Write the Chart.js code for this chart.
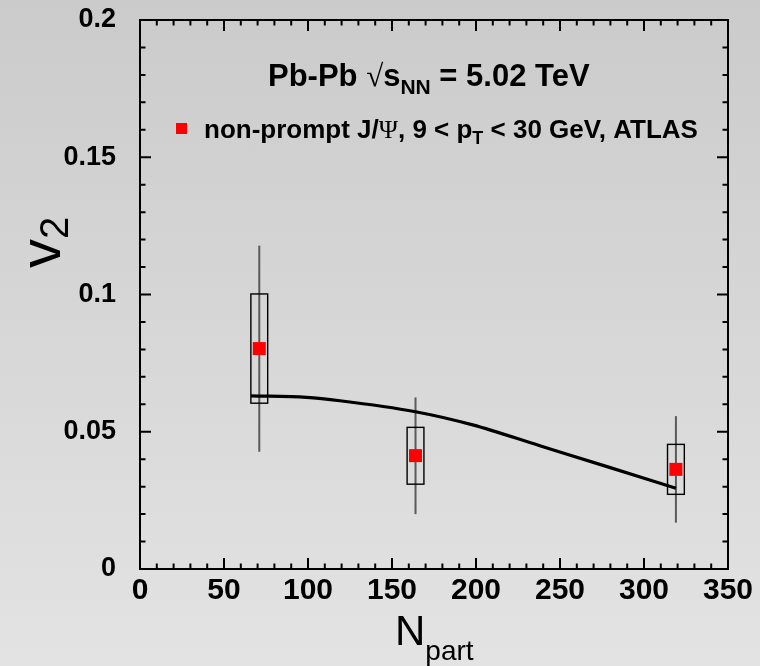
<!DOCTYPE html>
<html>
<head>
<meta charset="utf-8">
<script src="https://cdn.jsdelivr.net/npm/chart.js@4.4.0/dist/chart.umd.min.js"></script>
<style>
  html, body { margin: 0; padding: 0; }
  body { width: 760px; height: 666px; overflow: hidden; background: linear-gradient(#cbcbcb, #e3e3e3); }
  #wrap { position: relative; width: 760px; height: 666px; }
</style>
</head>
<body>
<div id="wrap"><canvas id="chart" width="760" height="666"></canvas></div>
<script>
// values
const nPart = [71, 164, 319];
const v2 = [0.0803, 0.0413, 0.0363];
const statLow = [0.0427, 0.0200, 0.0169];
const statHigh = [0.1178, 0.0625, 0.0557];
const sysLow = [0.0604, 0.0309, 0.0272];
const sysHigh = [0.1002, 0.0516, 0.0454];
const sysHalfWidth = 5; // in N_part units

// model curve
const modelN = [66, 99, 119, 164, 198, 238, 278, 319];
const modelV2 = [0.0631, 0.0625, 0.0613, 0.0573, 0.0525, 0.0449, 0.0373, 0.0294];

const xTicks = [0, 50, 100, 150, 200, 250, 300, 350];
const yTicks = [0, 0.05, 0.1, 0.15, 0.2];
const yTickLabels = ['0', '0.05', '0.1', '0.15', '0.2'];

const SANS = "'Liberation Sans', Arial, sans-serif";
const SERIF = "'Liberation Serif', 'Times New Roman', serif";

function drawRuns(ctx, runs, x, y) {
    runs.forEach(r => {
        ctx.font = r.font;
        ctx.fillText(r.text, x, y + (r.dy || 0));
        x += ctx.measureText(r.text).width;
    });
}

// stat error bars + systematic boxes
const errorBoxes = {
    id: 'errorBoxes',
    beforeDatasetsDraw(chart) {
        const { ctx, scales: { x, y } } = chart;
        ctx.save();
        nPart.forEach((n, i) => {
            const px = x.getPixelForValue(n);
            ctx.strokeStyle = '#5a5a5a';
            ctx.lineWidth = 2;
            ctx.beginPath();
            ctx.moveTo(px, y.getPixelForValue(statLow[i]));
            ctx.lineTo(px, y.getPixelForValue(statHigh[i]));
            ctx.stroke();

            const l = x.getPixelForValue(n - sysHalfWidth);
            const r = x.getPixelForValue(n + sysHalfWidth);
            const t = y.getPixelForValue(sysHigh[i]);
            const b = y.getPixelForValue(sysLow[i]);
            ctx.strokeStyle = '#000';
            ctx.lineWidth = 1.4;
            ctx.strokeRect(l, t, r - l, b - t);
        });
        ctx.restore();
    }
};

// ROOT-like frame with inward ticks on all sides, plus texts
const frameAndText = {
    id: 'frameAndText',
    afterDraw(chart) {
        const { ctx, chartArea: a, scales: { x, y } } = chart;
        ctx.save();
        ctx.strokeStyle = '#000';
        ctx.lineWidth = 2;
        ctx.strokeRect(a.left, a.top, a.right - a.left, a.bottom - a.top);

        ctx.beginPath();
        for (let k = 0; k <= 35; k++) {
            const px = x.getPixelForValue(k * 10);
            const len = k % 5 === 0 ? 11 : 5.5;
            ctx.moveTo(px, a.bottom); ctx.lineTo(px, a.bottom - len);
            ctx.moveTo(px, a.top); ctx.lineTo(px, a.top + len);
        }
        for (let k = 0; k <= 20; k++) {
            const py = y.getPixelForValue(k * 0.01);
            const len = k % 5 === 0 ? 11 : 5.5;
            ctx.moveTo(a.left, py); ctx.lineTo(a.left + len, py);
            ctx.moveTo(a.right, py); ctx.lineTo(a.right - len, py);
        }
        ctx.stroke();

        ctx.fillStyle = '#000';
        ctx.textBaseline = 'alphabetic';
        ctx.textAlign = 'left';

        // header
        drawRuns(ctx, [
            { text: 'Pb-Pb ', font: `bold 31px ${SANS}` },
            { text: '\u221A', font: `31px ${SERIF}` },
            { text: 's', font: `bold 31px ${SANS}` },
            { text: 'NN', font: `bold 21px ${SANS}`, dy: 8 },
            { text: ' = 5.02 TeV', font: `bold 31px ${SANS}` }
        ], 268, 86);

        // legend entry
        ctx.fillStyle = '#ff0000';
        ctx.fillRect(176, 123, 11, 11);
        ctx.fillStyle = '#000';
        drawRuns(ctx, [
            { text: 'non-prompt J/', font: `bold 26px ${SANS}` },
            { text: '\u03A8', font: `26px ${SERIF}` },
            { text: ', 9 < p', font: `bold 26px ${SANS}` },
            { text: 'T', font: `bold 18px ${SANS}`, dy: 6 },
            { text: ' < 30 GeV, ATLAS', font: `bold 26px ${SANS}` }
        ], 204, 138);

        // x title
        drawRuns(ctx, [
            { text: 'N', font: `42px ${SANS}` },
            { text: 'part', font: `28px ${SANS}`, dy: 15 }
        ], 395, 645);

        // y title
        ctx.translate(60, 268);
        ctx.rotate(-Math.PI / 2);
        drawRuns(ctx, [
            { text: 'v', font: `58px ${SANS}` },
            { text: '2', font: `40px ${SANS}`, dy: 8 }
        ], 0, 0);
        ctx.restore();
    }
};

new Chart(document.getElementById('chart'), {
    type: 'scatter',
    data: {
        datasets: [
            {
                label: 'non-prompt J/\u03A8',
                data: nPart.map((n, i) => ({ x: n, y: v2[i] })),
                backgroundColor: '#ff0000',
                borderColor: '#ff0000',
                borderWidth: 0,
                pointStyle: 'rect',
                pointRadius: 9.2,
                pointHoverRadius: 9.2
            },
            {
                label: 'model',
                data: modelN.map((n, i) => ({ x: n, y: modelV2[i] })),
                showLine: true,
                borderColor: '#000',
                borderWidth: 3.2,
                pointRadius: 0,
                cubicInterpolationMode: 'monotone',
                fill: false
            }
        ]
    },
    options: {
        responsive: false,
        animation: false,
        devicePixelRatio: 1,
        layout: { padding: { top: 20, right: 32, left: 0, bottom: 0 } },
        plugins: {
            legend: { display: false },
            tooltip: { enabled: false }
        },
        scales: {
            x: {
                type: 'linear',
                min: 0,
                max: 350,
                afterBuildTicks: s => { s.ticks = xTicks.map(v => ({ value: v })); },
                afterFit: s => { s.height = 97; s.paddingLeft = 0; s.paddingRight = 0; },
                grid: { display: false, drawTicks: false },
                border: { display: false },
                ticks: {
                    color: '#000',
                    padding: 4,
                    maxRotation: 0,
                    autoSkip: false,
                    font: { family: SANS, size: 30, weight: 'bold' }
                }
            },
            y: {
                type: 'linear',
                min: 0,
                max: 0.2,
                afterBuildTicks: s => { s.ticks = yTicks.map(v => ({ value: v })); },
                afterFit: s => { s.width = 140; s.paddingTop = 0; s.paddingBottom = 0; },
                grid: { display: false, drawTicks: false },
                border: { display: false },
                ticks: {
                    color: '#000',
                    padding: 24,
                    autoSkip: false,
                    font: { family: SANS, size: 27, weight: 'bold' },
                    callback: (v, i) => yTickLabels[i]
                }
            }
        }
    },
    plugins: [errorBoxes, frameAndText]
});
</script>
</body>
</html>
